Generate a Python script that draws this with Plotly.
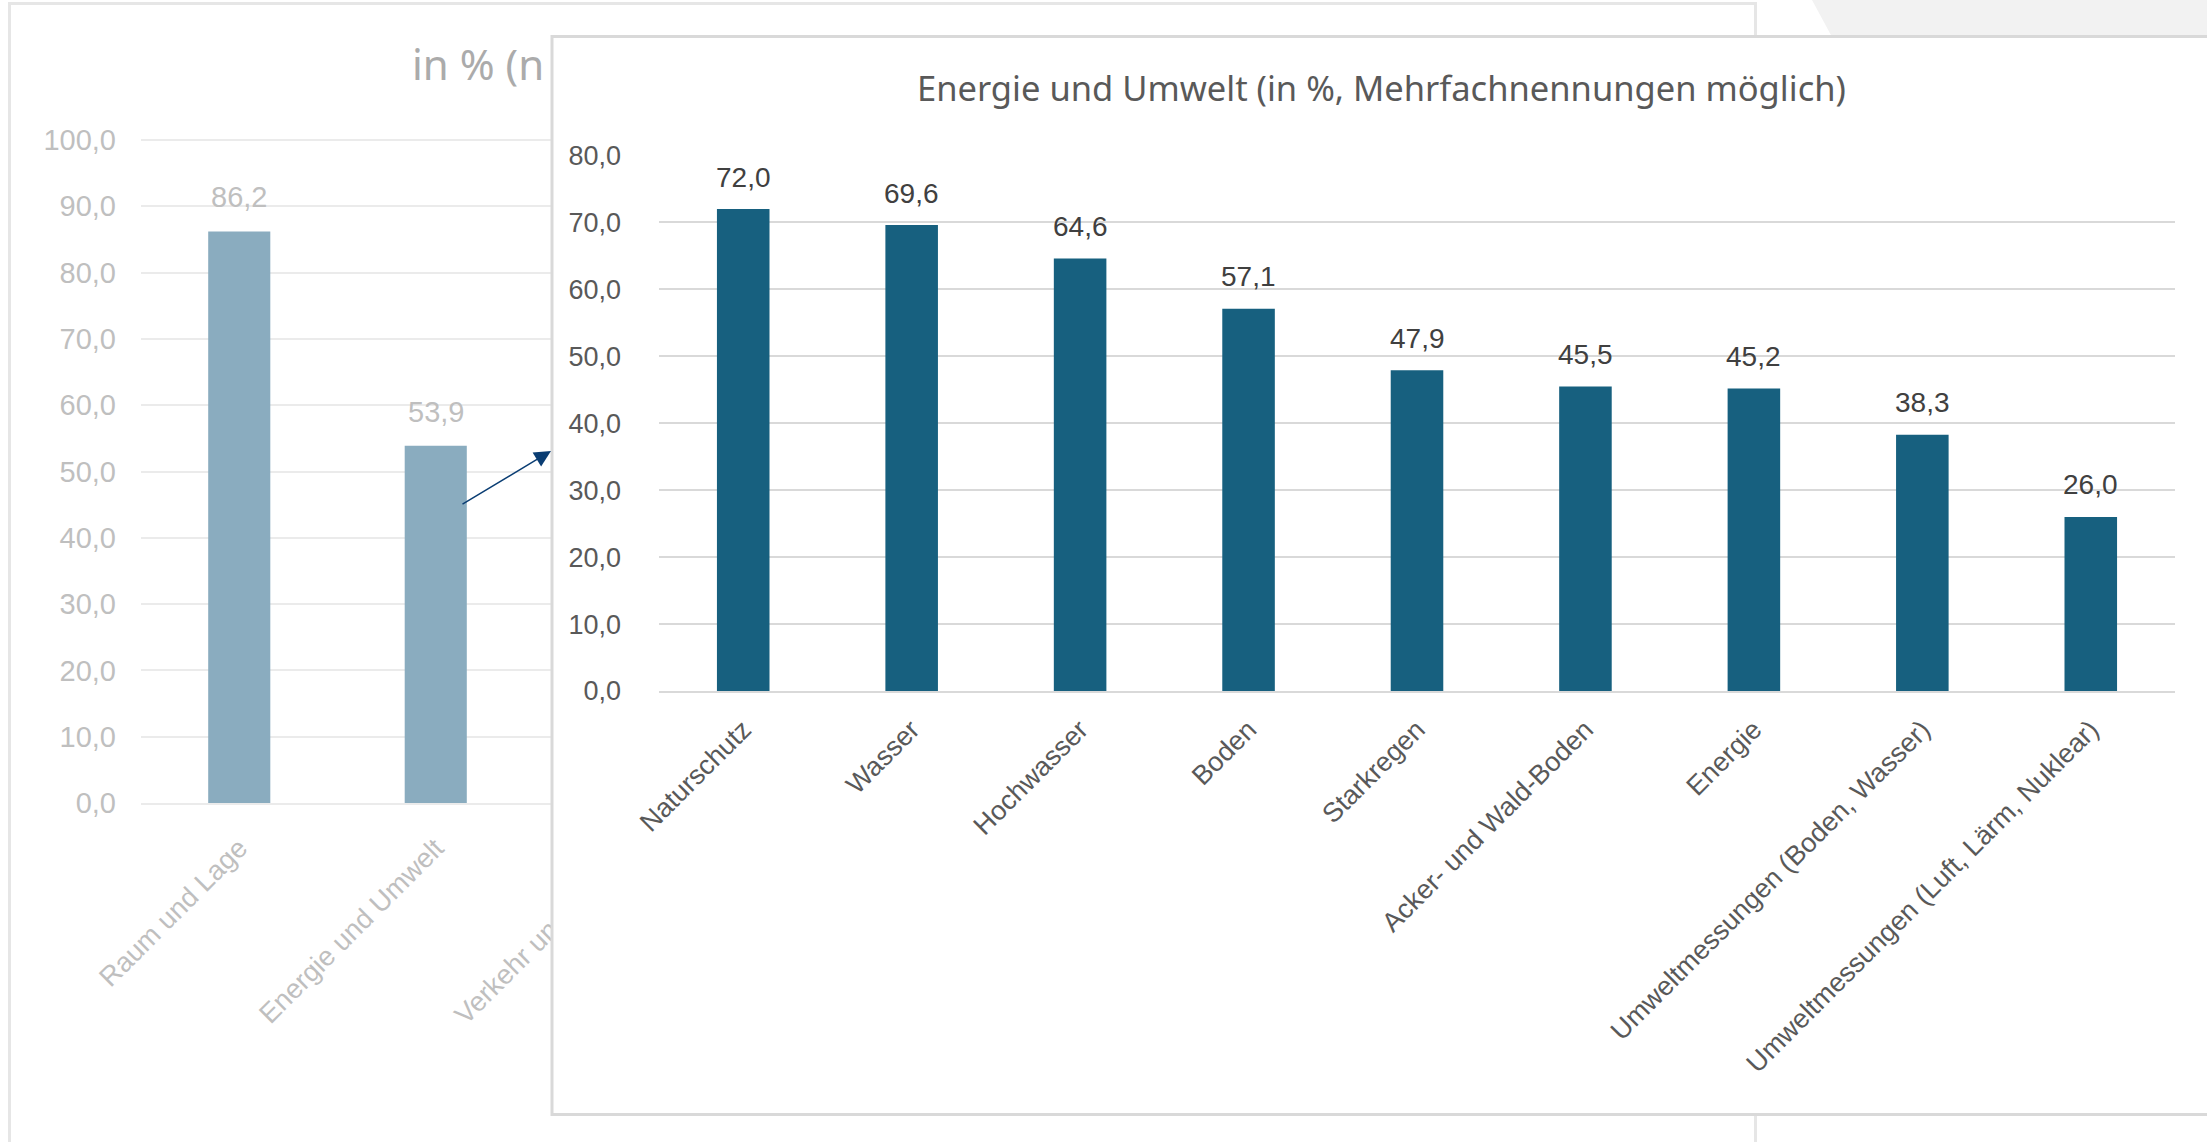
import plotly.graph_objects as go

# ---------------- data ----------------
bg_categories = ["Raum und Lage", "Energie und Umwelt", "Verkehr und Technik"]
bg_values = [86.2, 53.9, None]
bg_title = "in % (n"

inset_categories = [
    "Naturschutz", "Wasser", "Hochwasser", "Boden", "Starkregen",
    "Acker- und Wald-Boden", "Energie", "Umweltmessungen (Boden, Wasser)",
    "Umweltmessungen (Luft, Lärm, Nuklear)",
]
inset_values = [72.0, 69.6, 64.6, 57.1, 47.9, 45.5, 45.2, 38.3, 26.0]
inset_title = "Energie und Umwelt (in %, Mehrfachnennungen möglich)"

bg_yticks = [0, 10, 20, 30, 40, 50, 60, 70, 80, 90, 100]
inset_yticks = [0, 10, 20, 30, 40, 50, 60, 70, 80]

# ---------------- layout helpers ----------------
W, H = 2207, 1142
def px(x):
    return x / W
def py(y):
    return 1 - y / H

FONT = "Liberation Sans, Arial, sans-serif"
TITLE_FONT = "Noto Sans, Open Sans, sans-serif"

# background plot geometry (pixels)
BG_L, BG_R, BG_T, BG_B = 141, 1713, 140, 803
BG_N = 8            # category slots of the background chart
BG_YMAX = 115       # range head-room so the title can sit inside the subplot
BG_PPU = (BG_B - BG_T) / 100.0
def bg_xdata(pxv):
    return -0.5 + (pxv - BG_L) / (BG_R - BG_L) * BG_N
def bg_ydata(pyv):
    return (BG_B - pyv) / BG_PPU
BG_TOP_PX = BG_B - BG_YMAX * BG_PPU

fig = go.Figure()

# background chart (subplot 1)
bg_x = list(range(len(bg_categories)))
fig.add_trace(go.Bar(
    x=bg_x, y=bg_values, width=0.316, marker=dict(color="#8aacbf", line=dict(width=0)),
    xaxis="x", yaxis="y", showlegend=False, hoverinfo="skip",
))
fig.add_trace(go.Scatter(
    x=[bg_xdata(412)], y=[bg_ydata(69)], mode="text", text=[bg_title],
    textposition="middle right",
    textfont=dict(size=42, color="#ababab", family=TITLE_FONT),
    cliponaxis=False, xaxis="x", yaxis="y", showlegend=False, hoverinfo="skip",
))

# white cover panel for the inset (subplot 2)
fig.add_trace(go.Scatter(x=[None], y=[None], xaxis="x2", yaxis="y2",
                         showlegend=False, hoverinfo="skip"))

# inset chart (subplot 3)
fig.add_trace(go.Bar(
    x=inset_categories, y=inset_values, width=0.312,
    marker=dict(color="#17607f", line=dict(width=0)),
    xaxis="x3", yaxis="y3", showlegend=False, hoverinfo="skip",
))

annotations = []
for xv, v in zip(bg_x, bg_values):
    if v is None:
        continue
    annotations.append(dict(
        x=xv, y=v, xref="x", yref="y", text=f"{v:.1f}".replace(".", ","),
        showarrow=False, yanchor="middle", yshift=34,
        font=dict(size=29, color="#bfbfbf", family=FONT),
    ))
for c, v in zip(inset_categories, inset_values):
    annotations.append(dict(
        x=c, y=v, xref="x3", yref="y3", text=f"{v:.1f}".replace(".", ","),
        showarrow=False, yanchor="middle", yshift=32,
        font=dict(size=28, color="#404040", family=FONT),
    ))
annotations.append(dict(
    x=px(1381), y=py(87), xref="paper", yref="paper", text=inset_title,
    showarrow=False, xanchor="center", yanchor="middle",
    font=dict(size=34.5, color="#595959", family=TITLE_FONT),
))
annotations.append(dict(
    x=px(551), y=py(451), xref="paper", yref="paper", text="",
    showarrow=True, ax=-90, ay=54, arrowcolor="#0a3d73", arrowwidth=1.5,
    arrowhead=2, arrowsize=2.2, standoff=0,
))

shapes = [
    # light grey slanted band top right
    dict(type="path", xref="paper", yref="paper", layer="below",
         path=f"M {px(1812)},{py(0)} L {px(2207)},{py(0)} L {px(2207)},{py(37)} L {px(1832)},{py(37)} Z",
         fillcolor="#f2f2f2", line=dict(width=0)),
    # background chart frame
    dict(type="rect", xref="paper", yref="paper", layer="below",
         x0=px(9.5), y0=py(1170), x1=px(1755.5), y1=py(3.5),
         line=dict(color="#e6e6e6", width=3), fillcolor="rgba(0,0,0,0)"),
    # inset frame
    dict(type="rect", xref="paper", yref="paper", layer="above",
         x0=px(552), y0=py(1114.5), x1=px(2260), y1=py(36.5),
         line=dict(color="#d9d9d9", width=3), fillcolor="rgba(0,0,0,0)"),
]

fig.update_layout(
    template="none",
    width=W, height=H, autosize=False,
    margin=dict(l=0, r=0, t=0, b=0, pad=0, autoexpand=False),
    paper_bgcolor="#ffffff", plot_bgcolor="#ffffff",
    separators=",.",
    showlegend=False,
    annotations=annotations,
    shapes=shapes,
    xaxis=dict(
        domain=[px(BG_L), px(BG_R)], range=[-0.5, BG_N - 0.5],
        tickmode="array", tickvals=bg_x, ticktext=bg_categories,
        tickangle=-45, ticks="", ticklabelstandoff=16,
        tickfont=dict(size=27.5, color="#bfbfbf", family=FONT),
        showgrid=False, zeroline=False, automargin=False,
        showline=True, linecolor="#ebebeb", linewidth=2,
        anchor="y", fixedrange=True,
    ),
    yaxis=dict(
        domain=[py(BG_B), py(BG_TOP_PX)], range=[0, BG_YMAX],
        tickmode="array", tickvals=bg_yticks, tickformat=".1f",
        ticks="", ticklabelstandoff=24,
        tickfont=dict(size=29, color="#bfbfbf", family=FONT),
        showgrid=True, gridcolor="#ebebeb", gridwidth=2, automargin=False,
        zeroline=False, showline=False, anchor="x", fixedrange=True,
    ),
    xaxis2=dict(domain=[px(553), 1.0], range=[0, 1], visible=False,
                anchor="y2", fixedrange=True, automargin=False),
    yaxis2=dict(domain=[py(1113), py(36)], range=[0, 1], visible=False,
                anchor="x2", fixedrange=True, automargin=False),
    xaxis3=dict(
        domain=[px(659), px(2175)], type="category",
        tickangle=-45, ticks="", ticklabelstandoff=10,
        tickfont=dict(size=27, color="#595959", family=FONT),
        showgrid=False, zeroline=False, automargin=False,
        showline=True, linecolor="#d9d9d9", linewidth=2,
        anchor="y3", fixedrange=True,
    ),
    yaxis3=dict(
        domain=[py(691), py(155.5)], range=[0, 80],
        tickmode="array", tickvals=inset_yticks, tickformat=".1f",
        ticks="", ticklabelstandoff=37,
        tickfont=dict(size=27, color="#595959", family=FONT),
        showgrid=True, gridcolor="#d9d9d9", gridwidth=2, automargin=False,
        zeroline=False, showline=False, anchor="x3", fixedrange=True,
    ),
)

fig.write_html(
    "out.html",
    config={"displayModeBar": False, "staticPlot": True},
    post_script="document.body.style.margin='0';document.body.style.overflow='hidden';",
)
